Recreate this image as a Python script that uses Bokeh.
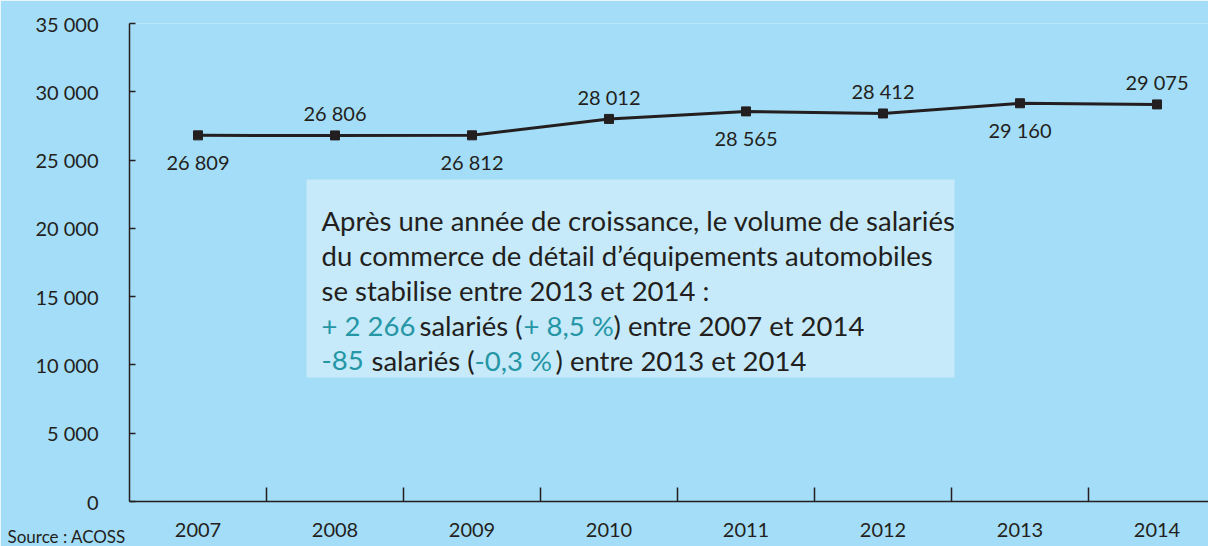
from bokeh.plotting import figure
from bokeh.models import Range1d, FixedTicker, Label, BoxAnnotation, ColumnDataSource
from bokeh.embed import file_html
from bokeh.resources import INLINE
from bokeh.core.properties import value

# ---- data ----
years = ["2007", "2008", "2009", "2010", "2011", "2012", "2013", "2014"]
salaries = [26809, 26806, 26812, 28012, 28565, 28412, 29160, 29075]
y_ticks = [0, 5000, 10000, 15000, 20000, 25000, 30000, 35000]

FONT = "Lato"
DARK = "#231f20"
TEAL = "#2596a6"
BG = "#a4ddf7"
BOX = "#c6eaf9"

W, H = 1208, 546
LEFT, TOP, BOTTOM = 129, 23, 45
CAT = 137.0

x_start = -0.5
x_end = x_start + (W - LEFT) / CAT

p = figure(width=W, height=H, output_backend="svg", toolbar_location=None,
           x_range=Range1d(x_start, x_end), y_range=Range1d(0, 35000),
           min_border_left=LEFT, min_border_top=TOP, min_border_bottom=BOTTOM,
           min_border_right=0)
p.background_fill_color = BG
p.border_fill_color = BG
p.outline_line_color = None
p.xgrid.visible = False
p.ygrid.visible = False

def fmt(v):
    return f"{v:,}".replace(",", " ")

# helpers: picture pixel -> data coords (for annotation placement)
def px2x(px):
    return x_start + (px - LEFT) / CAT

def px2y(py):
    bot = H - BOTTOM
    return (bot - py) * 35000 / (bot - TOP)

# y axis
ya = p.yaxis[0]
ya.ticker = FixedTicker(ticks=y_ticks)
ya.major_label_overrides = {t: fmt(t) for t in y_ticks}
ya.major_tick_in = 6
ya.major_tick_out = 0
ya.minor_tick_in = 0
ya.minor_tick_out = 0
ya.major_label_standoff = 31
ya.axis_line_color = DARK
ya.axis_line_width = 1.5
ya.major_tick_line_color = DARK
ya.major_tick_line_width = 1.5
ya.major_label_text_font = FONT
ya.major_label_text_font_size = "20px"
ya.major_label_text_color = DARK

# x axis
idx = list(range(len(years)))
xa = p.xaxis[0]
xa.ticker = FixedTicker(ticks=idx, minor_ticks=[i + 0.5 for i in idx[:-1]])
xa.major_label_overrides = {i: y for i, y in zip(idx, years)}
xa.major_tick_in = 0
xa.major_tick_out = 0
xa.minor_tick_in = 14
xa.minor_tick_out = 0
xa.minor_tick_line_color = DARK
xa.minor_tick_line_width = 1.5
xa.axis_line_color = DARK
xa.axis_line_width = 1.5
xa.major_label_standoff = 21
xa.major_label_text_font = FONT
xa.major_label_text_font_size = "20px"
xa.major_label_text_color = DARK

# annotation box
p.add_layout(BoxAnnotation(left=px2x(306), right=px2x(954), top=px2y(179), bottom=px2y(377),
                           fill_color=BOX, fill_alpha=1.0, line_alpha=0, level="underlay"))

# line + markers
src = ColumnDataSource(dict(
    x=idx, y=salaries, label=[fmt(v) for v in salaries],
    dy=[27 if i % 2 == 0 else -22 for i in idx],
))
p.line("x", "y", source=src, line_color=DARK, line_width=3)
p.scatter("x", "y", source=src, marker="square", size=9, fill_color=DARK, line_color=DARK)
p.text("x", "y", text="label", source=src, y_offset="dy", text_align="center",
       text_baseline="middle", text_font=value(FONT), text_font_size="20px", text_color=DARK)

# text in box
def lab(px, py, txt, color=DARK):
    p.add_layout(Label(x=px2x(px), y=px2y(py), text=txt, text_font=FONT, text_font_size="27.5px",
                       text_color=color, text_baseline="alphabetic", text_align="left"))

lab(321, 220, "Après une année de croissance, le volume de salariés")
lab(321, 255, "du commerce de détail d’équipements automobiles")
lab(321, 290, "se stabilise entre 2013 et 2014 :")
lab(321, 325, "+ 2 266", TEAL)
lab(419, 325, "salariés (")
lab(523, 325, "+ 8,5 %", TEAL)
lab(613, 325, ") entre 2007 et 2014")
lab(321, 360, "-85", TEAL)
lab(371, 360, "salariés (")
lab(474, 360, "-0,3 %", TEAL)
lab(555, 360, ") entre 2013 et 2014")

# source (placed in a side panel so it is not clipped to the frame; data units keep it at the bottom)
p.add_layout(Label(x=px2x(7), y=px2y(546), text="Source : ACOSS", text_font=FONT,
                   text_font_size="17px", text_color=DARK, text_baseline="bottom"), "above")

open("out.html", "w").write(file_html(p, INLINE))
